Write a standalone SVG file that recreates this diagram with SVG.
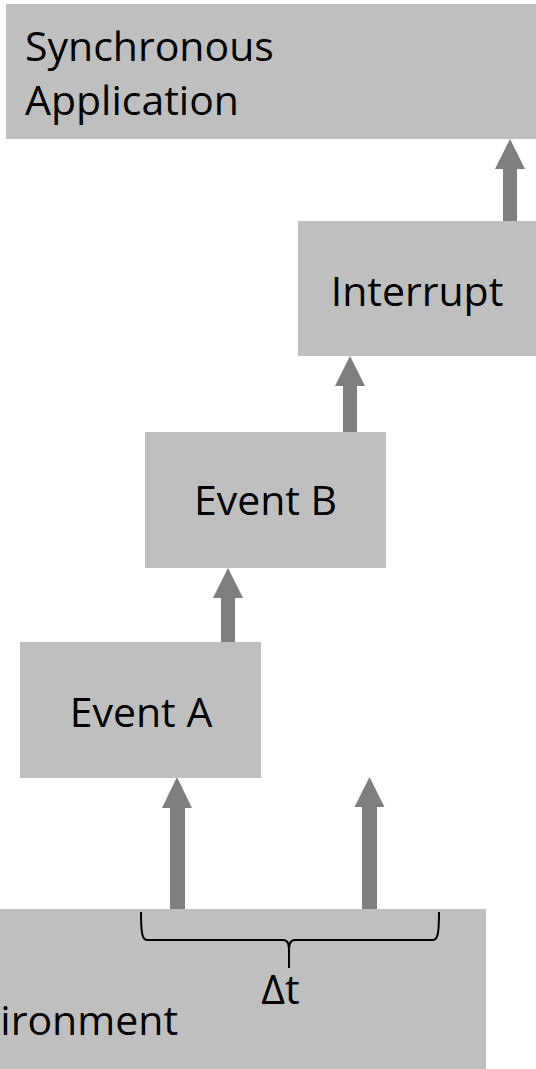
<svg xmlns="http://www.w3.org/2000/svg" width="536" height="1069" viewBox="0 0 536 1069">
  <style>
    .box { fill: #BFBFBF; }
    .lbl { font-family: "Open Sans", "Liberation Sans", sans-serif; font-size: 41px; fill: #000000; }
    .arr { fill: #7F7F7F; }
    .brace { fill: none; stroke: #000000; stroke-width: 2; }
  </style>
  <rect width="536" height="1069" fill="#FFFFFF"/>

  <g id="connectors">
    <polygon class="arr" points="510,139 525,169 517,169 517,221 503,221 503,169 495,169"/>
    <polygon class="arr" points="350,356 365,386 357,386 357,432 343,432 343,386 335,386"/>
    <polygon class="arr" points="228,568 243,598 235,598 235,642 221,642 221,598 213,598"/>
    <polygon class="arr" points="177,777 192,808 185,808 185,909 170,909 170,808 162,808"/>
    <polygon class="arr" points="369.5,777 384.5,807 377,807 377,909 362,909 362,807 354.5,807"/>
  </g>

  <g id="node-sync-app">
    <rect class="box" x="6" y="4" width="540" height="135"/>
    <text class="lbl" x="25" y="61">Synchronous</text>
    <text class="lbl" x="25" y="115">Application</text>
  </g>

  <g id="node-interrupt">
    <rect class="box" x="298" y="221" width="248" height="135"/>
    <text class="lbl" x="417" y="306" text-anchor="middle">Interrupt</text>
  </g>

  <g id="node-event-b">
    <rect class="box" x="145" y="432" width="241" height="136"/>
    <text class="lbl" x="265.5" y="515" text-anchor="middle">Event B</text>
  </g>

  <g id="node-event-a">
    <rect class="box" x="20" y="642" width="241" height="136"/>
    <text class="lbl" x="141" y="727" text-anchor="middle">Event A</text>
  </g>

  <g id="node-environment">
    <rect class="box" x="-20" y="909" width="506" height="170"/>
    <text class="lbl" x="178" y="1035" text-anchor="end">Environment</text>
    <path class="brace" d="M141,912 C141,932 142,940 147,940 L283,940 C288,940 289,944 289,952 L289,968 M289,952 C289,944 290,940 295,940 L433,940 C438,940 439,932 439,912"/>
    <text class="lbl" x="280.5" y="1004" text-anchor="middle">Δt</text>
  </g>
</svg>
